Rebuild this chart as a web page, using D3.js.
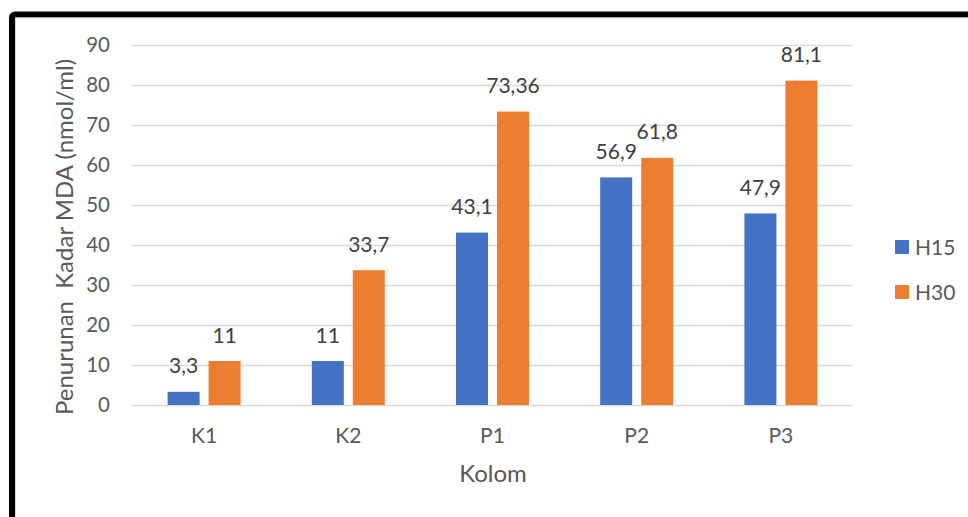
<!DOCTYPE html>
<html>
<head>
<meta charset="utf-8">
<script src="https://cdn.jsdelivr.net/npm/d3@7"></script>
<style>
html,body{margin:0;padding:0;background:#fff;}
svg{display:block;font-family:Lato,"Open Sans",sans-serif;}
</style>
</head>
<body>
<svg id="chart" width="968" height="517"></svg>
<script>
const categories = ["K1","K2","P1","P2","P3"];
const seriesNames = ["H15","H30"];
const h15 = [3.3, 11, 43.1, 56.9, 47.9];
const h30 = [11, 33.7, 73.36, 61.8, 81.1];
const h15Labels = ["3,3","11","43,1","56,9","47,9"];
const h30Labels = ["11","33,7","73,36","61,8","81,1"];
const yTicks = [0,10,20,30,40,50,60,70,80,90];
const colors = ["#4472C4","#ED7D31"];

const svg = d3.select("#chart");
const textColor = "#595959";

// outer frame
svg.append("rect").attr("x",12).attr("y",14.5).attr("width",1100).attr("height",1000)
  .attr("rx",3).attr("fill","#fff").attr("stroke","#000").attr("stroke-width",6);
svg.append("rect").attr("x",15.5).attr("y",18).attr("width",1100).attr("height",1000)
  .attr("fill","none").attr("stroke","#d9d9d9").attr("stroke-width",1);

const x0 = d3.scaleBand().domain(categories).range([132,853]).paddingInner(0).paddingOuter(0);
const y = d3.scaleLinear().domain([0,90]).range([405,45]);

// gridlines
svg.append("g").selectAll("line").data(yTicks).join("line")
  .attr("x1",132).attr("x2",853)
  .attr("y1",d=>Math.round(y(d))+0.5).attr("y2",d=>Math.round(y(d))+0.5)
  .attr("stroke","#d9d9d9").attr("stroke-width",1.5);

// y tick labels
svg.append("g").selectAll("text").data(yTicks).join("text")
  .attr("x",110).attr("y",d=>y(d)).attr("dy","0.36em")
  .attr("text-anchor","end").attr("fill",textColor).attr("font-size",20.5)
  .text(d=>d);

const barW = 32, gap = 9;
const groups = [h15,h30];
const labels = [h15Labels,h30Labels];
groups.forEach((vals,si)=>{
  const off = si===0 ? -(gap/2+barW) : gap/2;
  svg.append("g").selectAll("rect").data(vals).join("rect")
    .attr("x",(d,i)=>x0(categories[i])+x0.bandwidth()/2+off)
    .attr("y",d=>y(d)).attr("width",barW).attr("height",d=>y(0)-y(d))
    .attr("fill",colors[si]);
  svg.append("g").selectAll("text").data(vals).join("text")
    .attr("x",(d,i)=>x0(categories[i])+x0.bandwidth()/2+off+barW/2)
    .attr("y",d=>y(d)-18.5)
    .attr("text-anchor","middle").attr("fill","#404040").attr("font-size",21)
    .text((d,i)=>labels[si][i]);
});

// category labels
svg.append("g").selectAll("text").data(categories).join("text")
  .attr("x",d=>x0(d)+x0.bandwidth()/2).attr("y",443)
  .attr("text-anchor","middle").attr("fill",textColor).attr("font-size",21)
  .text(d=>d);

// axis titles
svg.append("text").attr("x",493).attr("y",482).attr("text-anchor","middle")
  .attr("fill",textColor).attr("font-size",24).text("Kolom");
svg.append("text").attr("transform","translate(73,237) rotate(-90)")
  .attr("text-anchor","middle").attr("fill",textColor).attr("font-size",24)
  .style("white-space","pre").text("Penurunan  Kadar MDA (nmol/ml)");

// legend
seriesNames.forEach((n,i)=>{
  const ly = 240 + i*45;
  svg.append("rect").attr("x",895).attr("y",ly).attr("width",14).attr("height",14).attr("fill",colors[i]);
  svg.append("text").attr("x",915).attr("y",ly+7).attr("dy","0.36em")
    .attr("fill",textColor).attr("font-size",21).text(n);
});
</script>
</body>
</html>
